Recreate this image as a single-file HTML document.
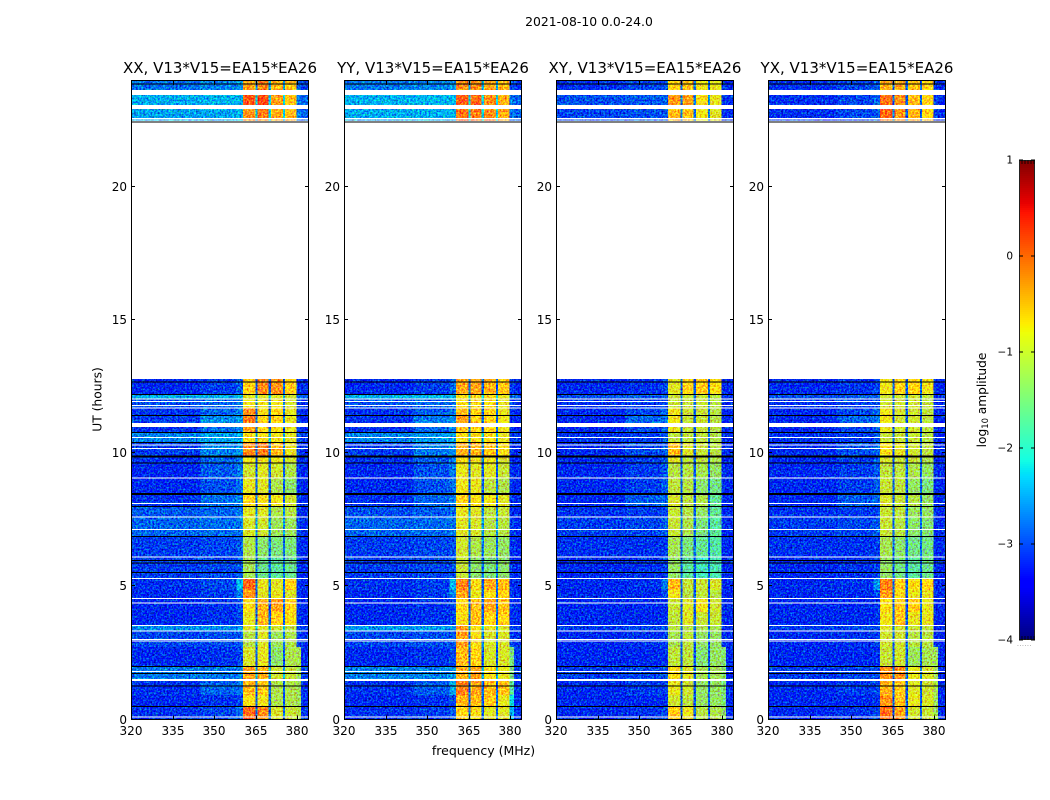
<!DOCTYPE html>
<html lang="en">
<head>
<meta charset="utf-8">
<title>2021-08-10 0.0-24.0</title>
<style>
html,body{margin:0;padding:0;background:#fff;width:1050px;height:800px;overflow:hidden}
svg{display:block}
text{font-family:"DejaVu Sans","Liberation Sans",sans-serif;fill:#000}
</style>
</head>
<body>
<svg id="figure" xmlns="http://www.w3.org/2000/svg" width="1050" height="800" viewBox="0 0 1050 800">
  <defs>
    <filter id="speckle" x="0" y="0" width="1" height="1" filterUnits="objectBoundingBox" color-interpolation-filters="sRGB">
      <feTurbulence type="fractalNoise" baseFrequency="0.55" numOctaves="2" seed="7" result="raw"/>
      <feColorMatrix in="raw" type="matrix" values="0 0 0 0 0.5  0 1 0 0 -0.05  0 0 1 0 0  0 0 0 0 1" result="noise"/>
      <feComposite in="SourceGraphic" in2="noise" operator="arithmetic" k1="0" k2="1" k3="1.5" k4="-0.75" result="mixed"/>
      <feComposite in="mixed" in2="SourceAlpha" operator="in"/>
    </filter>
  </defs>
  <rect x="0" y="0" width="1050" height="800" fill="#fff"/>
  <text x="589" y="26" font-size="12.4" text-anchor="middle">2021-08-10 0.0-24.0</text>
  <text transform="translate(101.5,399.5) rotate(-90)" font-size="12.3" text-anchor="middle">UT (hours)</text>
  <text x="483.5" y="755" font-size="12.5" text-anchor="middle">frequency (MHz)</text>
  <text transform="translate(986,400) rotate(-90)" font-size="12.2" text-anchor="middle">log<tspan font-size="8.4" dy="2">10</tspan><tspan dy="-2"> amplitude</tspan></text>
  <g id="panels"></g>
  <g id="colorbar"></g>
  <text x="1017" y="646" font-size="6" style="fill:#777" letter-spacing="0.6">......</text>
</svg>
<script>
// ---- chart data ----
const panelTitles = ['XX, V13*V15=EA15*EA26','YY, V13*V15=EA15*EA26','XY, V13*V15=EA15*EA26','YX, V13*V15=EA15*EA26'];
const freqTicks = [320,335,350,365,380];
const hourTicks = [0,5,10,15,20];
const colorbarTicks = [1,0,-1,-2,-3,-4];
const freqEdges = [320,345,358,360.4,365,369.8,374.9,379.7,381.3,383.8];
const gapFreqs = [365.2,370,375.1];
const gapWidthMHz = 0.8;
const gapLift = 0.25;
const rowEdges = [
 [23.96,23.62],[23.43,23.06],[22.91,22.42],
 [12.78,12.21],[12.21,12.03],[12.03,11.69],[11.69,11.43],[11.43,11.13],[10.98,10.79],
 [10.79,10.41],[10.41,9.89],[9.89,9.62],[9.62,9.06],[9.06,8.50],[8.50,8.01],[8.01,7.60],
 [7.60,6.89],[6.89,6.10],[6.10,5.30],[5.30,4.86],[4.86,4.56],[4.56,4.03],[4.03,3.55],
 [3.55,3.32],[3.32,2.72],[2.72,2.01],[2.01,1.48],[1.48,0.92],[0.92,0.51],[0.51,0]
];
const whiteFlagHours = [22.56,22.53,22.455,22.44,12.03,11.93,11.78,11.69,10.58,10.30,10.17,9.06,8.11,7.60,7.13,6.10,5.29,4.54,4.37,3.53,3.32,3.00,2.95,1.80,1.50,1.47,0.09];
const blackFlagHours = [23.85,22.42,12.66,12.20,11.41,10.77,10.39,9.89,9.85,9.62,8.48,8.45,7.99,6.87,5.97,5.87,5.52,1.99,1.73,1.26,0.49];

const xxValues = [
 [-2.75,-2.65,-2.55,-.4,-.25,-.55,-.6,-2.8,-3],
 [-2.45,-2.42,-2.4,0,.05,-.4,-.6,-2.7,-2.8],
 [-2.5,-2.48,-2.42,-.35,-.2,-.45,-.55,-2.7,-2.8],
 [-3.1,-3,-2.8,-.65,-.3,-.35,-.65,-3.05,-3.1],
 [-2.45,-2.42,-2.4,-.9,-.9,-.9,-1,-2.7,-2.8],
 [-2.9,-2.8,-2.7,-.8,-.8,-.8,-.95,-3,-3.05],
 [-3.05,-2.8,-2.6,-.3,-.75,-.7,-.85,-3,-3.1],
 [-3,-2.6,-2.5,-.2,-.7,-.7,-.85,-3,-3.1],
 [-3.05,-2.75,-2.6,-.45,-.7,-.75,-.85,-3,-3.1],
 [-2.65,-2.5,-2.45,-.75,-.75,-.8,-.9,-2.9,-3],
 [-3,-2.65,-2.55,-.3,-.2,-.55,-.85,-3,-3.1],
 [-3.05,-2.8,-2.65,-.8,-.8,-.85,-1,-3.05,-3.1],
 [-3.1,-2.85,-2.7,-1,-.9,-1,-1.2,-3.05,-3.1],
 [-3.1,-2.9,-2.75,-.85,-.9,-1.2,-1.4,-3.05,-3.1],
 [-3.05,-2.75,-2.65,-.7,-.75,-.8,-1,-3,-3.1],
 [-2.85,-2.8,-2.7,-.9,-.9,-1.2,-1.15,-3,-3.1],
 [-2.8,-2.75,-2.7,-.95,-1,-1.3,-1.3,-3,-3.05],
 [-3,-2.95,-2.85,-1.2,-1.4,-1.5,-1.5,-3.05,-3.1],
 [-3,-2.95,-2.85,-1.25,-1.6,-1.7,-1.6,-3.05,-3.1],
 [-3.05,-2.95,-2.35,-.1,-.85,-.9,-.7,-3.05,-3.1],
 [-3.1,-3,-2.7,-.35,-.9,-.85,-.95,-3.05,-3.1],
 [-3.1,-3.05,-2.9,-.75,-.5,-.4,-.7,-3.05,-3.1],
 [-3.1,-3.05,-2.95,-.85,-.55,-.7,-.75,-3.05,-3.1],
 [-2.6,-2.6,-2.55,-.9,-.9,-1,-1.1,-2.9,-3],
 [-2.95,-2.9,-2.85,-1.15,-.9,-1.3,-1.2,-3,-3.05],
 [-3.1,-3.05,-2.95,-.95,-.85,-1.4,-1.2,-1.25,-3.1],
 [-2.7,-2.7,-2.65,-.45,-.5,-1,-1.05,-1.3,-3],
 [-3.05,-2.8,-2.7,-.55,-.65,-1.2,-1.2,-1.3,-3.05],
 [-3.1,-3.05,-2.95,-.75,-.8,-1.2,-1.2,-1.3,-3.05],
 [-3.05,-2.95,-2.75,-.1,-.3,-.95,-1.05,-1.15,-3.05]
];
const yyValues = [
 [-2.7,-2.65,-2.55,-.3,-.3,-.45,-.55,-2.9,-3],
 [-2.42,-2.4,-2.38,-.05,-.1,-.3,-.5,-2.7,-2.8],
 [-2.45,-2.43,-2.4,-.15,-.2,-.3,-.45,-2.7,-2.8],
 [-3.1,-3,-2.8,-.45,-.45,-.5,-.65,-3.05,-3.1],
 [-2.42,-2.4,-2.38,-.75,-.75,-.75,-.85,-2.7,-2.8],
 [-2.9,-2.8,-2.7,-.75,-.75,-.75,-.85,-3,-3.05],
 [-3.05,-2.85,-2.7,-.55,-.7,-.7,-.85,-3.05,-3.1],
 [-3.05,-2.7,-2.55,-.4,-.7,-.7,-.8,-3.05,-3.1],
 [-3.05,-2.8,-2.65,-.6,-.7,-.7,-.8,-3.05,-3.1],
 [-2.65,-2.55,-2.5,-.75,-.75,-.75,-.85,-3,-3],
 [-3,-2.7,-2.6,-.5,-.5,-.6,-.75,-3.05,-3.1],
 [-3.05,-2.85,-2.7,-.75,-.8,-.8,-.95,-3.05,-3.1],
 [-3.1,-2.9,-2.7,-.85,-.9,-.9,-1.05,-3.05,-3.1],
 [-3.1,-2.9,-2.75,-.8,-.85,-1.1,-1.2,-3.05,-3.1],
 [-3.05,-2.8,-2.7,-.7,-.75,-.8,-.9,-3.05,-3.1],
 [-2.9,-2.85,-2.75,-.85,-.9,-1.1,-1.05,-3.05,-3.1],
 [-2.8,-2.78,-2.72,-.9,-.95,-1.15,-1.15,-3,-3.05],
 [-3,-2.95,-2.9,-1,-1.2,-1.3,-1.35,-3.05,-3.1],
 [-3,-2.95,-2.9,-1.05,-1.4,-1.5,-1.4,-3.05,-3.1],
 [-3.05,-3,-2.4,-.25,-.75,-.45,-.55,-3.05,-3.1],
 [-3.1,-3,-2.65,-.45,-.85,-.75,-.7,-3.05,-3.1],
 [-3.1,-3.05,-2.95,-.7,-.6,-.45,-.6,-3.05,-3.1],
 [-3.1,-3.05,-2.95,-.75,-.6,-.7,-.7,-3.05,-3.1],
 [-2.55,-2.55,-2.55,-.35,-.75,-.85,-.95,-2.9,-3],
 [-2.95,-2.9,-2.85,-.4,-.75,-.95,-.95,-3,-3.05],
 [-3.1,-3.05,-2.95,-.55,-.7,-.95,-.95,-1.5,-3],
 [-2.65,-2.65,-2.55,-.5,-.4,-.75,-.85,-1.5,-3],
 [-3.05,-2.85,-2.5,-.25,-.45,-.55,-.6,-1.7,-3.05],
 [-3.1,-3.05,-2.95,-.5,-.55,-.65,-.85,-2.2,-3.05],
 [-3.05,-3,-2.85,-.7,-.75,-.9,-.9,-2.4,-3.05]
];
const xyValues = [
 [-3.05,-2.95,-2.9,-.7,-.6,-.8,-.85,-3,-3.1],
 [-2.9,-2.85,-2.8,-.35,-.4,-.75,-.85,-3,-3.05],
 [-2.95,-2.9,-2.85,-.55,-.6,-.8,-.9,-3,-3.1],
 [-3.1,-3.05,-2.95,-.9,-.7,-.65,-.75,-3.1,-3.1],
 [-2.9,-2.85,-2.8,-1.05,-1.05,-1.05,-1.15,-3.05,-3.05],
 [-3.05,-3,-2.95,-1.05,-1.05,-1.05,-1.15,-3.1,-3.1],
 [-3.1,-2.95,-2.8,-.8,-1,-1.05,-1.15,-3.1,-3.1],
 [-3.1,-2.8,-2.7,-.8,-1.05,-1.05,-1.15,-3.1,-3.1],
 [-3.1,-2.95,-2.8,-.85,-1.05,-1.05,-1.15,-3.1,-3.1],
 [-3.05,-3,-2.85,-1.1,-1.1,-1.1,-1.2,-3.05,-3.1],
 [-3.1,-2.95,-2.8,-.55,-.9,-1.05,-1.15,-3.1,-3.1],
 [-3.1,-3,-2.85,-.9,-1.1,-1.1,-1.2,-3.1,-3.1],
 [-3.1,-3,-2.85,-1.15,-1.15,-1.25,-1.35,-3.1,-3.1],
 [-3.1,-3,-2.85,-1.1,-1.15,-1.4,-1.55,-3.1,-3.1],
 [-3.1,-2.85,-2.8,-.95,-1.1,-1.2,-1.65,-3.1,-3.1],
 [-3.05,-3,-2.95,-1.05,-1.15,-1.35,-1.65,-3.1,-3.1],
 [-3,-2.95,-2.85,-1.05,-1.2,-1.5,-1.7,-3.1,-3.1],
 [-3.05,-3.05,-3,-1.25,-1.5,-1.65,-1.75,-3.1,-3.1],
 [-3.1,-3.05,-3,-1.35,-1.7,-1.85,-1.8,-3.1,-3.1],
 [-3.1,-3.05,-2.7,-.55,-1.05,-1.05,-.95,-3.1,-3.1],
 [-3.1,-3.1,-2.95,-.8,-1.15,-1.1,-1.15,-3.1,-3.1],
 [-3.1,-3.1,-3.05,-1.05,-.9,-.8,-1,-3.1,-3.1],
 [-3.1,-3.1,-3.05,-1.1,-.9,-1.05,-1.05,-3.1,-3.1],
 [-3,-2.95,-2.9,-1.15,-1.15,-1.2,-1.25,-3.1,-3.1],
 [-3.1,-3.05,-3,-1.25,-1.1,-1.35,-1.35,-3.1,-3.1],
 [-3.1,-3.1,-3.05,-1.1,-1.1,-1.45,-1.35,-1.45,-3.1],
 [-3,-2.95,-2.9,-.75,-.9,-1.25,-1.25,-1.45,-3.1],
 [-3.1,-3,-2.95,-.85,-1,-1.35,-1.35,-1.5,-3.1],
 [-3.1,-3.1,-3.05,-1,-1.1,-1.35,-1.35,-1.5,-3.1],
 [-3.1,-3.05,-2.95,-.65,-.8,-1.15,-1.2,-1.4,-3.1]
];
const yxValues = [
 [-3.05,-2.95,-2.85,-.5,-.45,-.6,-.7,-3,-3.1],
 [-3.05,-2.95,-2.8,-.15,-.3,-.55,-.7,-3,-3.1],
 [-3.05,-2.95,-2.85,-.1,-.35,-.5,-.7,-3,-3.1],
 [-3.1,-3.05,-2.95,-.8,-.7,-.7,-.8,-3.1,-3.1],
 [-2.9,-2.85,-2.8,-1,-1,-1,-1.1,-3.05,-3.05],
 [-3.05,-3,-2.95,-1,-1,-1,-1.1,-3.1,-3.1],
 [-3.1,-2.95,-2.8,-.8,-.95,-1,-1.1,-3.1,-3.1],
 [-3.1,-2.8,-2.7,-.8,-1,-1,-1.1,-3.1,-3.1],
 [-3.1,-2.95,-2.8,-.85,-1,-1,-1.1,-3.1,-3.1],
 [-3.05,-3,-2.85,-1.05,-1.05,-1.05,-1.15,-3.05,-3.1],
 [-3.1,-2.9,-2.8,-.75,-.85,-1,-1.1,-3.1,-3.1],
 [-3.1,-3,-2.85,-.95,-1.05,-1.05,-1.2,-3.1,-3.1],
 [-3.1,-3,-2.85,-1.1,-1.1,-1.2,-1.35,-3.1,-3.1],
 [-3.1,-3,-2.85,-1.05,-1.1,-1.35,-1.5,-3.1,-3.1],
 [-3.1,-2.85,-2.8,-.95,-1.05,-1.15,-1.35,-3.1,-3.1],
 [-3.05,-3,-2.95,-1.05,-1.1,-1.3,-1.35,-3.1,-3.1],
 [-3,-2.95,-2.85,-1.05,-1.15,-1.4,-1.45,-3.1,-3.1],
 [-3.05,-3.05,-3,-1.25,-1.4,-1.55,-1.55,-3.1,-3.1],
 [-3.1,-3.05,-3,-1.35,-1.55,-1.7,-1.6,-3.1,-3.1],
 [-3.1,-3.05,-2.55,-.25,-.65,-.75,-.7,-3.1,-3.1],
 [-3.1,-3.1,-2.95,-.4,-.75,-.85,-.85,-3.1,-3.1],
 [-3.1,-3.1,-3.05,-.75,-.65,-.65,-.85,-3.1,-3.1],
 [-3.1,-3.1,-3.05,-.8,-.6,-.85,-.85,-3.1,-3.1],
 [-3,-2.95,-2.9,-.9,-1,-1.05,-1.1,-3.1,-3.1],
 [-3.1,-3.05,-3,-1,-1,-1.15,-1.15,-3.1,-3.1],
 [-3.1,-3.1,-3.05,-1.05,-1,-1.3,-1.25,-1.3,-3.1],
 [-3,-2.95,-2.9,-.3,-.35,-.85,-.95,-1.25,-3.1],
 [-3.1,-3,-2.95,-.5,-.65,-.9,-1,-1.25,-3.1],
 [-3.1,-3.1,-3.05,-.35,-.6,-.85,-.95,-1.3,-3.1],
 [-3.1,-3.05,-2.95,-.15,-.4,-1,-1.05,-1.3,-3.1]
];
const panelValues = [xxValues, yyValues, xyValues, yxValues];

// ---- layout and scales ----
const panelLefts = [131,344,556,768];
const panelWidth = 177;
const plotTop = 81;
const plotBottom = 719.5;
const hourMax = 23.96;
const freqMin = 320;
const freqMax = 383.8;
const valueMin = -4;
const valueMax = 1;
const cbLeft = 1019, cbRight = 1035, cbTop = 160, cbBottom = 640;
const NS = 'http://www.w3.org/2000/svg';

const hourToY = h => plotBottom - (h / hourMax) * (plotBottom - plotTop);
const freqToX = (left, f) => left + (f - freqMin) / (freqMax - freqMin) * panelWidth;
const valueToCbY = v => cbBottom - (v - valueMin) / (valueMax - valueMin) * (cbBottom - cbTop);

function jet(v){
  const t = Math.max(0, Math.min(1, (v - valueMin) / (valueMax - valueMin)));
  const seg = (pts) => {
    for (let i = 1; i < pts.length; i++) {
      if (t <= pts[i][0]) {
        const a = pts[i-1], b = pts[i];
        return a[1] + (b[1]-a[1]) * (t-a[0]) / (b[0]-a[0]);
      }
    }
    return pts[pts.length-1][1];
  };
  const r = seg([[0,0],[.35,0],[.66,1],[.89,1],[1,.5]]);
  const g = seg([[0,0],[.125,0],[.375,1],[.64,1],[.91,0],[1,0]]);
  const b = seg([[0,.5],[.11,1],[.34,1],[.65,0],[1,0]]);
  return 'rgb(' + Math.round(r*255) + ',' + Math.round(g*255) + ',' + Math.round(b*255) + ')';
}
function make(tag, attrs, parent){
  const el = document.createElementNS(NS, tag);
  for (const k in attrs) el.setAttribute(k, attrs[k]);
  parent.appendChild(el);
  return el;
}

const panelsRoot = document.getElementById('panels');

panelTitles.forEach((title, p) => {
  const left = panelLefts[p];
  const right = left + panelWidth;
  const values = panelValues[p];

  const panel = make('g', {}, panelsRoot);
  
  

  const heat = make('g', {filter: 'url(#speckle)', 'shape-rendering': 'crispEdges'}, panel);
  
  

  rowEdges.forEach((edge, r) => {
    const y0 = hourToY(edge[0]);
    const y1 = hourToY(edge[1]);
    values[r].forEach((v, c) => {
      const x0 = freqToX(left, freqEdges[c]);
      const x1 = freqToX(left, freqEdges[c+1]);
      const cell = make('rect', {x: x0, y: y0, width: x1 - x0, height: y1 - y0, fill: jet(v)}, heat);
      
      
    });
    gapFreqs.forEach(f => {
      const x0 = freqToX(left, f - gapWidthMHz / 2);
      const x1 = freqToX(left, f + gapWidthMHz / 2);
      const cell = make('rect', {x: x0, y: y0, width: x1 - x0, height: y1 - y0, fill: jet(values[r][0] + gapLift)}, heat);
      
      
    });
  });

  whiteFlagHours.forEach(h => {
    const line = make('rect', {x: left, y: hourToY(h) - 0.5, width: panelWidth, height: 1, fill: '#fff', 'shape-rendering': 'crispEdges'}, panel);
    
    
  });
  blackFlagHours.forEach(h => {
    const line = make('rect', {x: left, y: hourToY(h) - 0.5, width: panelWidth, height: 1, fill: '#000', 'shape-rendering': 'crispEdges'}, panel);
    
    
  });

  const frame = make('rect', {x: left + 0.5, y: plotTop - 0.5, width: panelWidth, height: plotBottom - plotTop + 0.5, fill: 'none', stroke: '#000', 'stroke-width': 1, 'shape-rendering': 'crispEdges'}, panel);
  
  

  const titleEl = make('text', {x: (left + right) / 2 + 0.5, y: 73, 'font-size': 15, 'text-anchor': 'middle'}, panel);
  titleEl.textContent = title;
  
  

  freqTicks.forEach(f => {
    const x = Math.round(freqToX(left, f)) + 0.5;
    const bottomTick = make('line', {x1: x, x2: x, y1: plotBottom, y2: plotBottom - 4, stroke: '#000', 'stroke-width': 1, 'shape-rendering': 'crispEdges'}, panel);
    
    
    const topTick = make('line', {x1: x, x2: x, y1: plotTop, y2: plotTop + 4, stroke: '#000', 'stroke-width': 1, 'shape-rendering': 'crispEdges'}, panel);
    
    
    const label = make('text', {x: x - 0.5, y: 735, 'font-size': 12, 'text-anchor': 'middle'}, panel);
    label.textContent = f;
    
    
  });

  hourTicks.forEach(h => {
    const y = Math.round(hourToY(h)) - 0.5;
    const leftTick = make('line', {x1: left, x2: left + 4, y1: y, y2: y, stroke: '#000', 'stroke-width': 1, 'shape-rendering': 'crispEdges'}, panel);
    
    
    const rightTick = make('line', {x1: right + 1, x2: right - 3, y1: y, y2: y, stroke: '#000', 'stroke-width': 1, 'shape-rendering': 'crispEdges'}, panel);
    
    
    const label = make('text', {x: left - 4, y: y + 4.5, 'font-size': 12, 'text-anchor': 'end'}, panel);
    label.textContent = h;
    
    
  });
});

// ---- colorbar ----
const cbRoot = document.getElementById('colorbar');
for (let py = cbTop; py < cbBottom; py += 2) {
  const v = valueMax - (py + 1 - cbTop) / (cbBottom - cbTop) * (valueMax - valueMin);
  const step = make('rect', {x: cbLeft, y: py, width: cbRight - cbLeft, height: 2, fill: jet(v), 'shape-rendering': 'crispEdges'}, cbRoot);
  
  
}
const cbFrame = make('rect', {x: cbLeft + 0.5, y: cbTop + 0.5, width: cbRight - cbLeft - 1, height: cbBottom - cbTop - 1, fill: 'none', stroke: '#222', 'stroke-width': 1}, cbRoot);


colorbarTicks.forEach(v => {
  const y = valueToCbY(v);
  const tickA = make('line', {x1: cbLeft, x2: cbLeft + 4, y1: y, y2: y, stroke: '#000', 'stroke-width': 1}, cbRoot);
  
  
  const tickB = make('line', {x1: cbRight, x2: cbRight - 4, y1: y, y2: y, stroke: '#000', 'stroke-width': 1}, cbRoot);
  
  
  const label = make('text', {x: 1013, y: y + 3.5, 'font-size': 10.5, 'text-anchor': 'end'}, cbRoot);
  label.textContent = (v < 0 ? '\u2212' + Math.abs(v) : String(v));
  
  
});
[1022,1025,1028,1031,1034].forEach(x => {
  const t = make('line', {x1: x, x2: x, y1: cbTop, y2: cbTop + 4, stroke: '#000', 'stroke-width': 0.8}, cbRoot);
  
  
  const b = make('line', {x1: x, x2: x, y1: cbBottom, y2: cbBottom - 4, stroke: '#000', 'stroke-width': 0.8}, cbRoot);
  
  
});
</script>
</body>
</html>
